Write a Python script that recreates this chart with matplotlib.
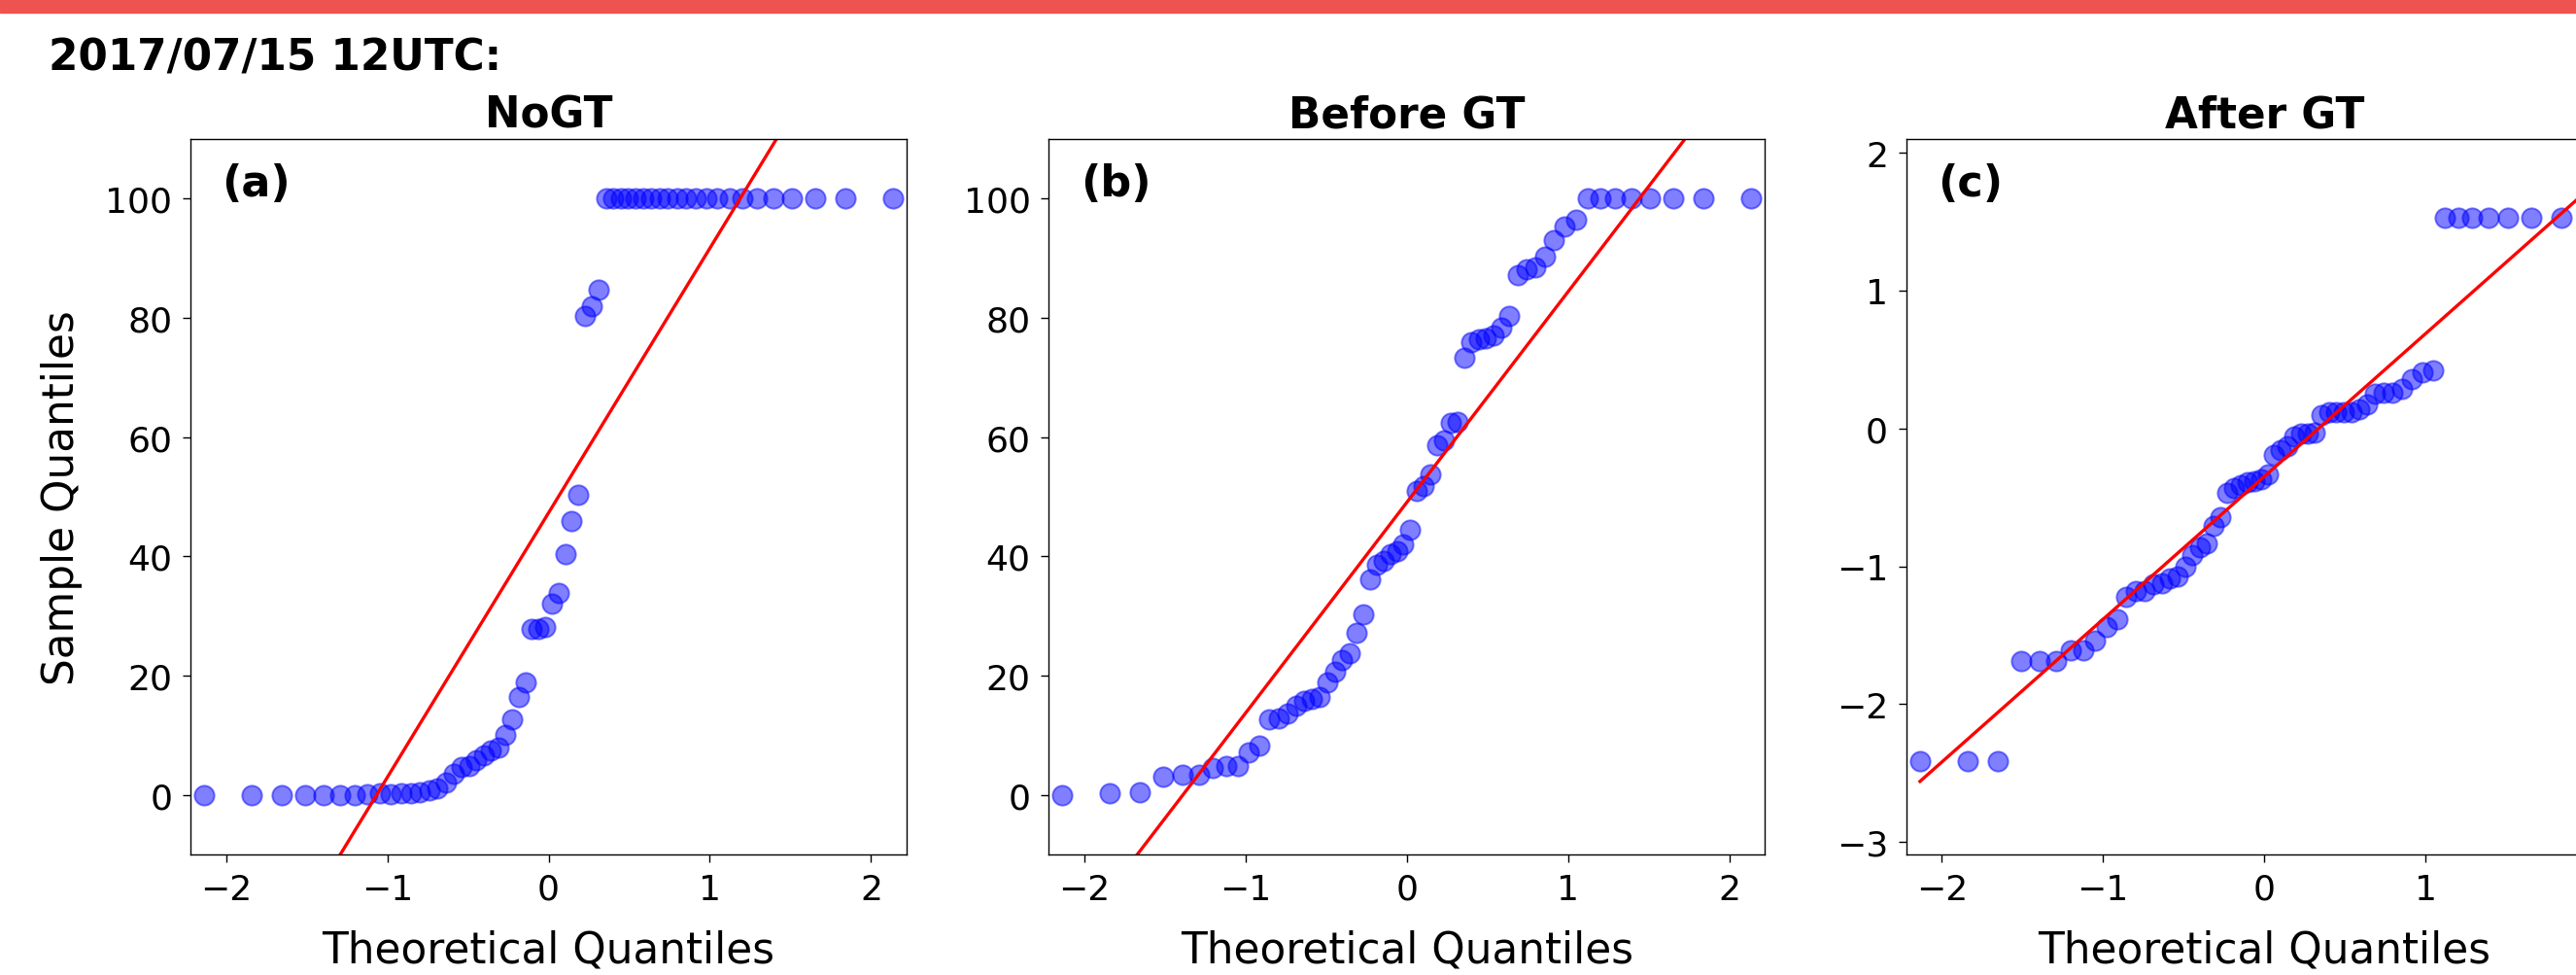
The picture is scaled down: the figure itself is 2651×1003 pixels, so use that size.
import numpy as np
import matplotlib.pyplot as plt

# theoretical normal quantiles of the 60 sorted samples (shared by all panels)
theo_q = [-2.135, -1.841, -1.653, -1.510, -1.392, -1.291, -1.202, -1.121, -1.047, -0.978,
          -0.914, -0.854, -0.796, -0.740, -0.687, -0.636, -0.587, -0.539, -0.492, -0.446,
          -0.401, -0.357, -0.313, -0.270, -0.228, -0.186, -0.144, -0.103, -0.062, -0.021,
          0.021, 0.062, 0.103, 0.144, 0.186, 0.228, 0.270, 0.313, 0.357, 0.401,
          0.446, 0.492, 0.539, 0.587, 0.636, 0.687, 0.740, 0.796, 0.854, 0.914,
          0.978, 1.047, 1.121, 1.202, 1.291, 1.392, 1.510, 1.653, 1.841, 2.135]

# sample quantiles (sorted)
nogt = [0, 0, 0, 0, 0, 0, 0, 0.15, 0.2, 0.15,
        0.2, 0.2, 0.4, 0.7, 1.1, 2.0, 3.6, 4.7, 4.8, 5.8,
        6.6, 7.4, 8.0, 10.1, 12.6, 16.4, 18.9, 27.9, 27.9, 28.1,
        32.0, 33.9, 40.4, 45.9, 50.4, 80.3, 82.0, 84.7, 100, 100,
        100, 100, 100, 100, 100, 100, 100, 100, 100, 100,
        100, 100, 100, 100, 100, 100, 100, 100, 100, 100]

before_gt = [0, 0.3, 0.5, 3.0, 3.3, 3.4, 4.5, 4.8, 4.9, 7.1,
             8.2, 12.6, 12.8, 13.6, 15.0, 15.8, 16.1, 16.4, 18.8, 20.7,
             22.6, 23.7, 27.2, 30.2, 36.2, 38.6, 39.3, 40.3, 40.8, 42.0,
             44.5, 50.9, 51.8, 53.7, 58.6, 59.5, 62.4, 62.5, 73.3, 76.0,
             76.4, 76.6, 77.0, 78.4, 80.3, 87.2, 88.2, 88.4, 90.2, 93.0,
             95.4, 96.5, 100, 100, 100, 100, 100, 100, 100, 100]

after_gt = [-2.41, -2.41, -2.41, -1.69, -1.69, -1.69, -1.61, -1.61, -1.54, -1.44,
            -1.38, -1.22, -1.18, -1.18, -1.13, -1.12, -1.09, -1.07, -1.00, -0.92,
            -0.86, -0.835, -0.71, -0.64, -0.47, -0.435, -0.41, -0.39, -0.38, -0.365,
            -0.33, -0.19, -0.16, -0.13, -0.06, -0.04, -0.035, -0.03, 0.10, 0.115,
            0.117, 0.117, 0.12, 0.14, 0.175, 0.25, 0.258, 0.26, 0.29, 0.36,
            0.41, 0.42, 1.53, 1.53, 1.53, 1.53, 1.53, 1.53, 1.53, 1.53]

titles = ["NoGT", "Before GT", "After GT"]
panel_tags = ["(a)", "(b)", "(c)"]
ylims = [(-10, 110), (-10, 110), (-3.09, 2.10)]
xticks = [[-2, -1, 0, 1, 2], [-2, -1, 0, 1, 2], [-2, -1, 0, 1]]
date_label = "2017/07/15 12UTC:"

W, H = 2651, 1004
fig = plt.figure(figsize=(W / 100, H / 100), dpi=100)

# red strip along the top edge
fig.add_artist(plt.Rectangle((0, 1 - 14 / H), 1, 14 / H, transform=fig.transFigure,
                             color="#EF5350", zorder=0))
fig.text(50 / W, 1 - 73 / H, date_label, fontsize=31.5, fontweight="bold",
         ha="left", va="baseline")

lefts = [196, 1079.3, 1961.7]
ax_w, ax_h = 737, 736
ax_bottom = H - 880

for i, sample in enumerate([nogt, before_gt, after_gt]):
    ax = fig.add_axes([lefts[i] / W, ax_bottom / H, ax_w / W, ax_h / H])
    x = np.array(theo_q)
    y = np.array(sample)

    ax.plot(x, y, "o", color="b", alpha=0.5, markersize=14.6, markeredgewidth=1.4)
    # standardized reference line (mean + std * q)
    ax.plot(x, np.mean(y) + np.std(y) * x, "r-", linewidth=2.4)

    ax.set_xlim(-2.2205, 2.2205)
    ax.set_ylim(*ylims[i])
    ax.set_xticks(xticks[i])
    ax.set_title(titles[i], fontsize=31.5, fontweight="bold", pad=9)
    ax.text(0.044, 0.9375, panel_tags[i], transform=ax.transAxes, fontsize=32,
            fontweight="bold", ha="left", va="center")

    ax.set_xlabel("Theoretical Quantiles", fontsize=31.5)
    ax.xaxis.set_label_coords(0.5, -0.104)
    if i == 0:
        ax.set_ylabel("Sample Quantiles", fontsize=31.5)
        ax.yaxis.set_label_coords(-0.151, 0.5)

    ax.tick_params(axis="both", labelsize=26, length=5.5, width=1.0)
    ax.tick_params(axis="x", pad=8)
    ax.tick_params(axis="y", pad=8)
    for sp in ax.spines.values():
        sp.set_linewidth(1.0)

fig.savefig("out.png", dpi=100)
